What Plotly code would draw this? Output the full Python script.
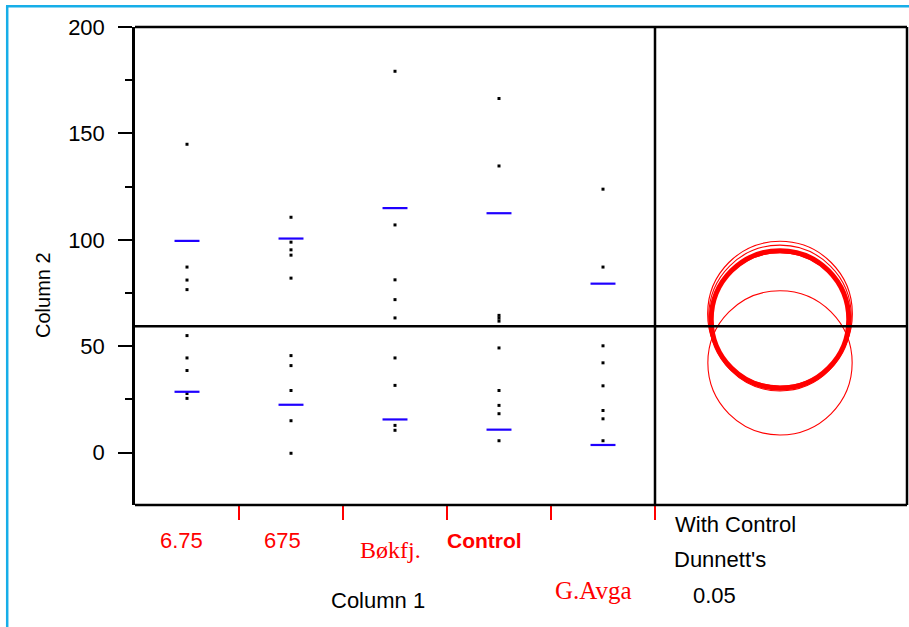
import plotly.graph_objects as go

# ---------------- data ----------------
categories = ["6.75", "675", "Bøkfj.", "Control", "G.Avga"]

vals_675a = [144.9, 87.2, 81.1, 76.6, 55.0, 44.5, 38.6, 27.8, 25.5]
vals_675b = [110.6, 98.9, 95.3, 92.8, 82.0, 45.6, 40.9, 29.2, 15.0, -0.3]
vals_bokfj = [179.2, 107.0, 81.2, 71.9, 63.3, 44.5, 31.6, 12.8, 10.5]
vals_control = [166.4, 134.7, 64.5, 63.2, 61.8, 49.2, 29.2, 22.2, 18.3, 5.6]
vals_gavga = [123.8, 87.2, 50.2, 42.2, 31.4, 19.8, 15.9, 5.6]
group_values = [vals_675a, vals_675b, vals_bokfj, vals_control, vals_gavga]

sd_upper = [99.5, 100.6, 114.9, 112.5, 79.4]
sd_lower = [28.6, 22.5, 15.6, 10.8, 3.6]

grand_mean = 59.4

circle_centers = [64.0, 61.5, 65.3, 62.6, 42.2]
circle_radii = [33.5, 32.5, 34.0, 32.3, 33.9]
control_name = "Control"

y_tick_vals = [0, 50, 100, 150, 200]
y_range = [-24.6, 200]

# ---------------- layout constants ----------------
W, H = 909, 627
ML, MR, MT, MB = 135, 2, 27, 122
PW = W - ML - MR
PH = H - MT - MB
split_px = 655
dom_end = (split_px - ML) / PW
px_per_unit = PH / (y_range[1] - y_range[0])
x2_units = (PW * (1 - dom_end)) / px_per_unit
x2_left = (780 - split_px) / px_per_unit
x2_range = [-x2_left, x2_units - x2_left]


def xp(px):
    return (px - ML) / PW


def yp(py):
    return (H - MB - py) / PH


fig = go.Figure()

# points
for i, vals in enumerate(group_values):
    fig.add_trace(go.Scatter(
        x=[i + 0.5] * len(vals), y=vals, mode="markers",
        marker=dict(symbol="square", size=3, color="black", line=dict(width=0)),
        showlegend=False, hoverinfo="y"))

# std dev lines
half = 0.12
for i in range(len(categories)):
    for v in (sd_upper[i], sd_lower[i]):
        fig.add_trace(go.Scatter(
            x=[i + 0.5 - half, i + 0.5 + half], y=[v, v], mode="lines",
            line=dict(color="#1f00ff", width=2.2),
            showlegend=False, hoverinfo="skip"))

shapes = []
# comparison circles
for name, c, r in zip(categories, circle_centers, circle_radii):
    thick = name == control_name
    shapes.append(dict(type="circle", xref="x2", yref="y",
                       x0=-r, x1=r, y0=c - r, y1=c + r,
                       line=dict(color="#ff0000", width=5 if thick else 1.1)))

# grand mean line
shapes.append(dict(type="line", xref="paper", yref="y", x0=0, x1=1,
                   y0=grand_mean, y1=grand_mean,
                   line=dict(color="black", width=2.5)))
# frame
fl = dict(color="black", width=2.5)
shapes += [
    dict(type="line", xref="paper", yref="paper", x0=0, x1=1, y0=1, y1=1, line=fl),
    dict(type="line", xref="paper", yref="paper", x0=0, x1=1, y0=0, y1=0, line=fl),
    dict(type="line", xref="paper", yref="paper", x0=1, x1=1, y0=0, y1=1, line=fl),
    dict(type="line", xref="paper", yref="paper", x0=dom_end, x1=dom_end, y0=0, y1=1, line=fl),
]
# outer blue border
bl = dict(color="#17aee8", width=2.5)
shapes += [
    dict(type="line", xref="paper", yref="paper", x0=xp(7.2), x1=xp(7.2),
         y0=yp(5.5), y1=yp(H + 2), line=bl),
    dict(type="line", xref="paper", yref="paper", x0=xp(6), x1=xp(W + 2),
         y0=yp(6.2), y1=yp(6.2), line=bl),
]

# category labels
label_styles = [
    dict(font=dict(family="Liberation Sans, Arial", size=22, color="#ff0000"), dx=-6, py=540),
    dict(font=dict(family="Liberation Sans, Arial", size=22, color="#ff0000"), dx=-8.5, py=540),
    dict(font=dict(family="Liberation Serif, Times New Roman", size=24, color="#ff0000"), dx=-5, py=550),
    dict(font=dict(family="Liberation Sans, Arial", size=21, color="#ff0000", weight="bold"), dx=-14.5, py=540),
    dict(font=dict(family="Liberation Serif, Times New Roman", size=25, color="#ff0000"), dx=-9.5, py=590),
]
annotations = []
for i, (lab, st) in enumerate(zip(categories, label_styles)):
    annotations.append(dict(text=lab, x=i + 0.5, xref="x", y=yp(st["py"]), yref="paper",
                            xshift=st["dx"], xanchor="center", yanchor="middle",
                            showarrow=False, font=st["font"]))

black_font = dict(family="Liberation Sans, Arial", size=22, color="black")
for txt, cx, cy in [("Column 1", 378, 600), ("With Control", 735, 524),
                    ("Dunnett's", 720, 559), ("0.05", 714, 595)]:
    annotations.append(dict(text=txt, x=xp(cx), y=yp(cy), xref="paper", yref="paper",
                            xanchor="center", yanchor="middle", showarrow=False,
                            font=black_font))
annotations.append(dict(text="Column 2", x=xp(43), y=yp(295), xref="paper", yref="paper",
                        xanchor="center", yanchor="middle", showarrow=False, textangle=-90,
                        font=dict(family="Liberation Sans, Arial", size=20, color="black")))

fig.update_layout(
    width=W, height=H,
    margin=dict(l=ML, r=MR, t=MT, b=MB, pad=0),
    paper_bgcolor="white", plot_bgcolor="white",
    showlegend=False,
    xaxis=dict(domain=[0, dom_end], range=[0, 5], tickvals=[1, 2, 3, 4, 5],
               showticklabels=False, ticks="outside", ticklen=14, tickwidth=2,
               tickcolor="#ff0000", showgrid=False, zeroline=False, showline=False,
               fixedrange=True),
    xaxis2=dict(domain=[dom_end, 1], range=x2_range, anchor="y", showticklabels=False,
                ticks="", showgrid=False, zeroline=False, showline=False),
    yaxis=dict(range=y_range, tickvals=y_tick_vals, ticks="outside", ticklen=14,
               tickwidth=2, tickcolor="black", showline=True, linewidth=2.5,
               linecolor="black", showgrid=False, zeroline=False,
               ticklabelstandoff=9,
               tickfont=dict(family="Liberation Sans, Arial", size=22, color="black"),
               minor=dict(dtick=25, tick0=0, ticks="outside", ticklen=7, tickwidth=2,
                          tickcolor="black", showgrid=False)),
    shapes=shapes,
    annotations=annotations,
)

fig.write_html("out.html")
